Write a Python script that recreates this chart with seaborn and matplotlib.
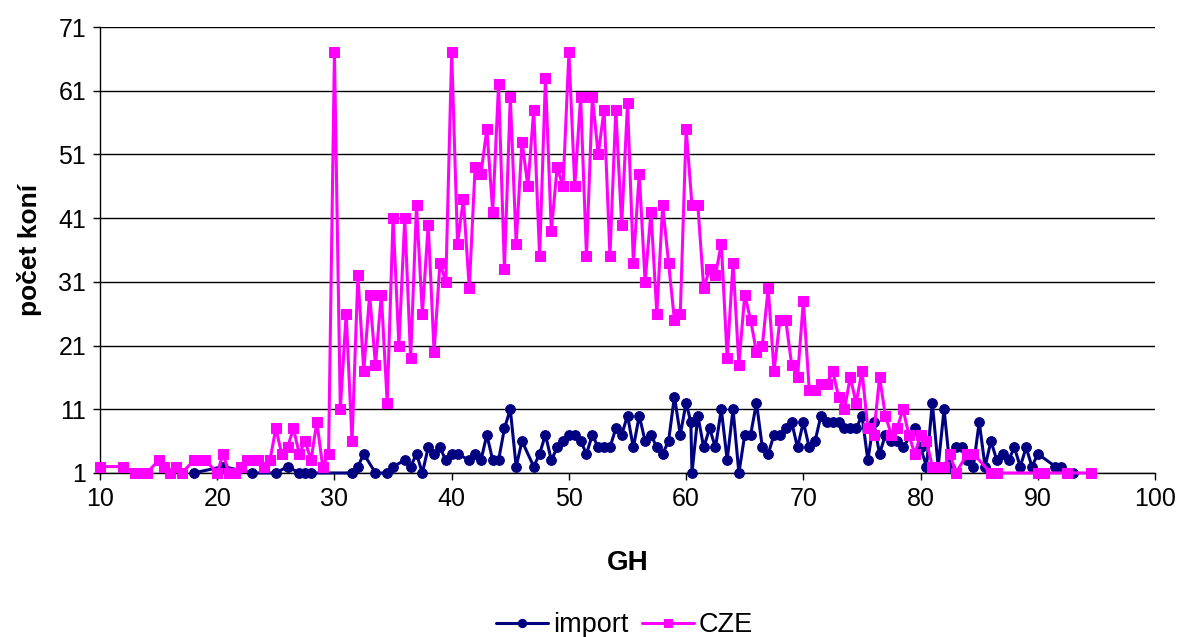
import numpy as np
import pandas as pd
import seaborn as sns
import matplotlib
matplotlib.use("Agg")
import matplotlib.pyplot as plt

# dati: GH -> počet koní
cze_gh = [10, 12, 13, 13.5, 14, 15, 15.5, 16, 16.5, 17, 18, 19, 20, 20.5, 21, 21.5,
          22, 22.5, 23, 23.5, 24, 24.5, 25, 25.5, 26, 26.5, 27, 27.5, 28, 28.5, 29, 29.5,
          30, 30.5, 31, 31.5, 32, 32.5, 33, 33.5, 34, 34.5, 35, 35.5, 36, 36.5, 37, 37.5,
          38, 38.5, 39, 39.5, 40, 40.5, 41, 41.5, 42, 42.5, 43, 43.5, 44, 44.5, 45, 45.5,
          46, 46.5, 47, 47.5, 48, 48.5, 49, 49.5, 50, 50.5, 51, 51.5, 52, 52.5, 53, 53.5,
          54, 54.5, 55, 55.5, 56, 56.5, 57, 57.5, 58, 58.5, 59, 59.5, 60, 60.5, 61, 61.5,
          62, 62.5, 63, 63.5, 64, 64.5, 65, 65.5, 66, 66.5, 67, 67.5, 68, 68.5, 69, 69.5,
          70, 70.5, 71, 71.5, 72, 72.5, 73, 73.5, 74, 74.5, 75, 75.5, 76, 76.5, 77, 77.5,
          78, 78.5, 79, 79.5, 80, 80.5, 81, 81.5, 82, 82.5, 83, 84, 84.5, 86, 86.5, 90,
          90.5, 92.5, 94.5]
cze_n = [2, 2, 1, 1, 1, 3, 2, 1, 2, 1, 3, 3, 1, 4, 1, 1,
         2, 3, 3, 3, 2, 3, 8, 4, 5, 8, 4, 6, 3, 9, 2, 4,
         67, 11, 26, 6, 32, 17, 29, 18, 29, 12, 41, 21, 41, 19, 43, 26,
         40, 20, 34, 31, 67, 37, 44, 30, 49, 48, 55, 42, 62, 33, 60, 37,
         53, 46, 58, 35, 63, 39, 49, 46, 67, 46, 60, 35, 60, 51, 58, 35,
         58, 40, 59, 34, 48, 31, 42, 26, 43, 34, 25, 26, 55, 43, 43, 30,
         33, 32, 37, 19, 34, 18, 29, 25, 20, 21, 30, 17, 25, 25, 18, 16,
         28, 14, 14, 15, 15, 17, 13, 11, 16, 12, 17, 8, 7, 16, 10, 7,
         8, 11, 7, 4, 7, 6, 2, 2, 2, 4, 1, 4, 4, 1, 1, 1,
         1, 1, 1]

imp_gh = [18, 20.5, 23, 25, 26, 27, 27.5, 28, 31.5, 32, 32.5, 33.5, 34.5, 35, 36, 36.5,
          37, 37.5, 38, 38.5, 39, 39.5, 40, 40.5, 41.5, 42, 42.5, 43, 43.5, 44, 44.5, 45,
          45.5, 46, 47, 47.5, 48, 48.5, 49, 49.5, 50, 50.5, 51, 51.5, 52, 52.5, 53, 53.5,
          54, 54.5, 55, 55.5, 56, 56.5, 57, 57.5, 58, 58.5, 59, 59.5, 60, 60.4, 60.5, 61,
          61.5, 62, 62.5, 63, 63.5, 64, 64.5, 65, 65.5, 66, 66.5, 67, 67.5, 68, 68.5, 69,
          69.5, 70, 70.5, 71, 71.5, 72, 72.5, 73, 73.5, 74, 74.5, 75, 75.5, 76, 76.5, 77,
          77.5, 78, 78.5, 79.5, 80, 80.5, 81, 81.5, 82, 82.5, 83, 83.5, 84, 84.5, 85, 85.5,
          86, 86.5, 87, 87.5, 88, 88.5, 89, 89.5, 90, 91.5, 92, 93]
imp_n = [1, 2, 1, 1, 2, 1, 1, 1, 1, 2, 4, 1, 1, 2, 3, 2,
         4, 1, 5, 4, 5, 3, 4, 4, 3, 4, 3, 7, 3, 3, 8, 11,
         2, 6, 2, 4, 7, 3, 5, 6, 7, 7, 6, 4, 7, 5, 5, 5,
         8, 7, 10, 5, 10, 6, 7, 5, 4, 6, 13, 7, 12, 9, 1, 10,
         5, 8, 5, 11, 3, 11, 1, 7, 7, 12, 5, 4, 7, 7, 8, 9,
         5, 9, 5, 6, 10, 9, 9, 9, 8, 8, 8, 10, 3, 9, 4, 7,
         6, 6, 5, 8, 5, 2, 12, 2, 11, 2, 5, 5, 3, 2, 9, 2,
         6, 3, 4, 3, 5, 2, 5, 2, 4, 2, 2, 1]

df_imp = pd.DataFrame({"GH": imp_gh, "n": imp_n})
df_cze = pd.DataFrame({"GH": cze_gh, "n": cze_n})

sns.set_style("white")
plt.rcParams['font.family'] = ['Liberation Sans', 'DejaVu Sans']
plt.rcParams['text.color'] = 'black'
plt.rcParams['axes.labelcolor'] = 'black'
plt.rcParams['xtick.color'] = 'black'
plt.rcParams['ytick.color'] = 'black'

fig = plt.figure(figsize=(11.79, 6.37), dpi=100)
ax = fig.add_axes([0.0848, 0.2575, 0.8949, 0.7001])

sns.lineplot(data=df_imp, x="GH", y="n", ax=ax, color="#000080", marker="o",
             markersize=7, markeredgecolor="#000080", linewidth=2.2,
             estimator=None, sort=False, label="import", clip_on=False, zorder=3)
sns.lineplot(data=df_cze, x="GH", y="n", ax=ax, color="#FF00FF", marker="s",
             markersize=7, markeredgecolor="#FF00FF", linewidth=2.2,
             estimator=None, sort=False, label="CZE", clip_on=False, zorder=4)

ax.set_xlim(10, 100)
ax.set_ylim(1, 71)
ax.set_xticks(np.arange(10, 101, 10))
ax.set_yticks(np.arange(1, 72, 10))
ax.yaxis.grid(True, color="black", linewidth=1)
ax.set_axisbelow(True)
for s in ["top", "right"]:
    ax.spines[s].set_visible(False)
for s in ["left", "bottom"]:
    ax.spines[s].set_color("black")
    ax.spines[s].set_linewidth(1)
ax.tick_params(axis="both", direction="out", length=5, width=1, color="black",
               labelsize=18, pad=5, bottom=True, left=True)
ax.set_xlabel("GH", fontsize=20, fontweight="bold", labelpad=28)
ax.set_ylabel("počet koní", fontsize=19, fontweight="bold", labelpad=12)

handles, labels = ax.get_legend_handles_labels()
ax.get_legend().remove()
fig.legend(handles, labels, loc="lower center", bbox_to_anchor=(0.53, -0.04),
           ncol=2, frameon=False, fontsize=19.5, handlelength=1.9,
           columnspacing=0.5, handletextpad=0.2, markerscale=0.85)

fig.savefig("out.png", dpi=100)
